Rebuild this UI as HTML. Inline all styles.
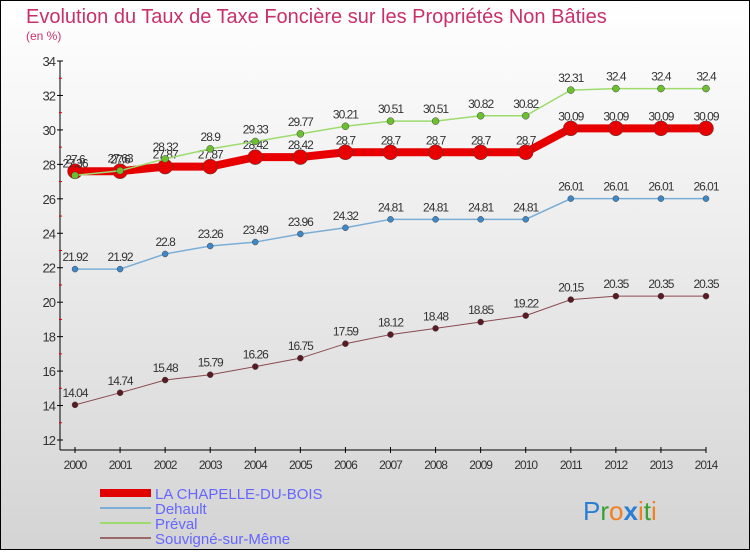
<!DOCTYPE html>
<html><head><meta charset="utf-8"><style>
html,body{margin:0;padding:0}
body{width:750px;height:550px;overflow:hidden;font-family:"Liberation Sans",sans-serif}
</style></head><body>
<svg width="750" height="550" xmlns="http://www.w3.org/2000/svg">
<defs><linearGradient id="bg" x1="0" y1="0" x2="0" y2="1"><stop offset="0" stop-color="#ffffff"/><stop offset="1" stop-color="#d4d4d4"/></linearGradient></defs>
<rect x="0.5" y="0.5" width="749" height="549" fill="url(#bg)" stroke="#000"/>
<text x="26" y="23" font-size="20" fill="#c8306a">Evolution du Taux de Taxe Foncière sur les Propriétés Non Bâties</text>
<text x="26" y="40" font-size="12" fill="#c8306a">(en %)</text>
<g id="axes"></g>
<g id="series"></g>
<g>
<rect x="100" y="489" width="51" height="8" fill="#e00000"/>
<text x="155" y="499" font-size="15" fill="#6666ff">LA CHAPELLE-DU-BOIS</text>
<rect x="100" y="507" width="51" height="2" fill="#7aaed6"/>
<text x="155" y="514" font-size="15" fill="#6666ff">Dehault</text>
<rect x="100" y="522" width="51" height="2" fill="#9ddc6c"/>
<text x="155" y="529" font-size="15" fill="#6666ff">Préval</text>
<rect x="100" y="537" width="51" height="2" fill="#9a6a6a"/>
<text x="155" y="544" font-size="15" fill="#6666ff">Souvigné-sur-Même</text>
</g>
<text x="583" y="520" font-size="26"><tspan fill="#2a7fd4">P</tspan><tspan fill="#3aa030">r</tspan><tspan fill="#f08020">o</tspan><tspan fill="#2a7fd4" font-weight="bold">x</tspan><tspan fill="#f08020">i</tspan><tspan fill="#3aa030">t</tspan><tspan fill="#f08020">i</tspan></text>
</svg>
<script>
const years=[2000,2001,2002,2003,2004,2005,2006,2007,2008,2009,2010,2011,2012,2013,2014];
const chapelle=[27.6,27.6,27.87,27.87,28.42,28.42,28.7,28.7,28.7,28.7,28.7,30.09,30.09,30.09,30.09];
const dehault=[21.92,21.92,22.8,23.26,23.49,23.96,24.32,24.81,24.81,24.81,24.81,26.01,26.01,26.01,26.01];
const preval=[27.36,27.63,28.32,28.9,29.33,29.77,30.21,30.51,30.51,30.82,30.82,32.31,32.4,32.4,32.4];
const souvigne=[14.04,14.74,15.48,15.79,16.26,16.75,17.59,18.12,18.48,18.85,19.22,20.15,20.35,20.35,20.35];
const yTicks=[12,14,16,18,20,22,24,26,28,30,32,34];
const NS="http://www.w3.org/2000/svg";
function X(i){return 75+i*(706-75)/(years.length-1);}
function Y(v){return 440-(v-12)*(440-61)/22;}
function mk(tag,attrs,parent){const e=document.createElementNS(NS,tag);for(const k in attrs)e.setAttribute(k,attrs[k]);parent.appendChild(e);return e;}
const ax=document.getElementById('axes');
let l=mk('line',{x1:60,y1:61,x2:60,y2:450,stroke:'#000'},ax);


l=mk('line',{x1:60,y1:450,x2:706,y2:450,stroke:'#000'},ax);


yTicks.forEach(v=>{
  mk('line',{x1:57,y1:Y(v),x2:63,y2:Y(v),stroke:'#000'},ax);
  if(v<34) mk('line',{x1:59,y1:Y(v+1),x2:62,y2:Y(v+1),stroke:'#e00000'},ax);
  const t=mk('text',{x:55,y:Y(v)+5,'font-size':13,fill:'#333','text-anchor':'end','letter-spacing':'-1'},ax);
  t.textContent=v;
  
  
});
years.forEach((yr,i)=>{
  mk('line',{x1:X(i),y1:447,x2:X(i),y2:453,stroke:'#000'},ax);
  const t=mk('text',{x:X(i),y:469,'font-size':12,fill:'#333','text-anchor':'middle','letter-spacing':'-1'},ax);
  t.textContent=yr;
  
  
});
const sg=document.getElementById('series');
function draw(name,vals,lc,pc,lw,r){
  const g=mk('g',{},sg);
  
  
  const p=mk('polyline',{points:vals.map((v,i)=>X(i)+','+Y(v)).join(' '),fill:'none',stroke:lc,'stroke-width':lw},g);
  
  
  vals.forEach((v,i)=>{
    const c=mk('circle',{cx:X(i),cy:Y(v),r:r,fill:pc,stroke:'#444','stroke-width':0.5},g);
    
    
    const t=mk('text',{x:X(i),y:Y(v)-8,'font-size':12,fill:'#333','text-anchor':'middle','letter-spacing':'-1'},g);
    t.textContent=v;
    
    
  });
}
draw('souvigne',souvigne,'#8a4a50','#5a1a22',1,3);
draw('dehault',dehault,'#7aaed6','#3f88c8',1.5,3);
draw('chapelle',chapelle,'#e80000','#e80000',8,7.5);
draw('preval',preval,'#9ddc6c','#6cc030',1.5,3.5);
</script>
</body></html>
